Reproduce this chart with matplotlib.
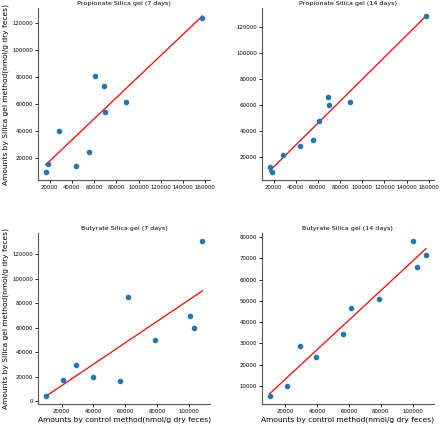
import numpy as np
import matplotlib
matplotlib.use("Agg")
import matplotlib.pyplot as plt

# control method amounts (x), silica gel amounts (y)
prop_x = [16500, 18300, 28600, 44200, 55300, 61200, 68700, 70100, 88600, 157500]
prop_7d = [9100, 15000, 40100, 14000, 24000, 80500, 72900, 54000, 61400, 124000]
prop_14d = [12000, 8200, 21300, 28700, 32900, 47800, 66500, 59900, 62400, 128700]

but_x = [10000, 21000, 29000, 39500, 56500, 61500, 78600, 100500, 103000, 108500]
but_7d = [4300, 17900, 29900, 19800, 16600, 85500, 50500, 69500, 60300, 131100]
but_14d = [5000, 10000, 28500, 23500, 34400, 46800, 50700, 78300, 66100, 71700]

panels = [
    ("Propionate Silica gel (7 days)", prop_x, prop_7d, [0.086, 0.576, 0.392, 0.405]),
    ("Propionate Silica gel (14 days)", prop_x, prop_14d, [0.595, 0.576, 0.391, 0.405]),
    ("Butyrate Silica gel (7 days)", but_x, but_7d, [0.086, 0.049, 0.392, 0.403]),
    ("Butyrate Silica gel (14 days)", but_x, but_14d, [0.595, 0.049, 0.391, 0.403]),
]

fig = plt.figure(figsize=(4.4, 4.25), dpi=100)

for i, (title, x, y, pos) in enumerate(panels):
    ax = fig.add_axes(pos)
    x = np.array(x, dtype=float)
    y = np.array(y, dtype=float)
    ax.scatter(x, y, s=9, color='#1f77b4', zorder=3)
    m, b = np.polyfit(x, y, 1)
    ax.plot(x, m * x + b, color='red', linewidth=0.9)
    ax.set_title(title, fontsize=4.6, pad=2)
    ax.tick_params(labelsize=3.9, length=2, width=0.6, pad=1.5)
    for s in ['top', 'right']:
        ax.spines[s].set_visible(False)
    for s in ['left', 'bottom']:
        ax.spines[s].set_linewidth(0.8)
        ax.spines[s].set_color('#555555')
    if i % 2 == 0:
        ax.set_ylabel('Amounts by Silica gel method(nmol/g dry feces)', fontsize=5.4, labelpad=2)
    if i >= 2:
        ax.set_xlabel('Amounts by control method(nmol/g dry feces)', fontsize=5.4, labelpad=2)

plt.savefig('out.png', dpi=100)
